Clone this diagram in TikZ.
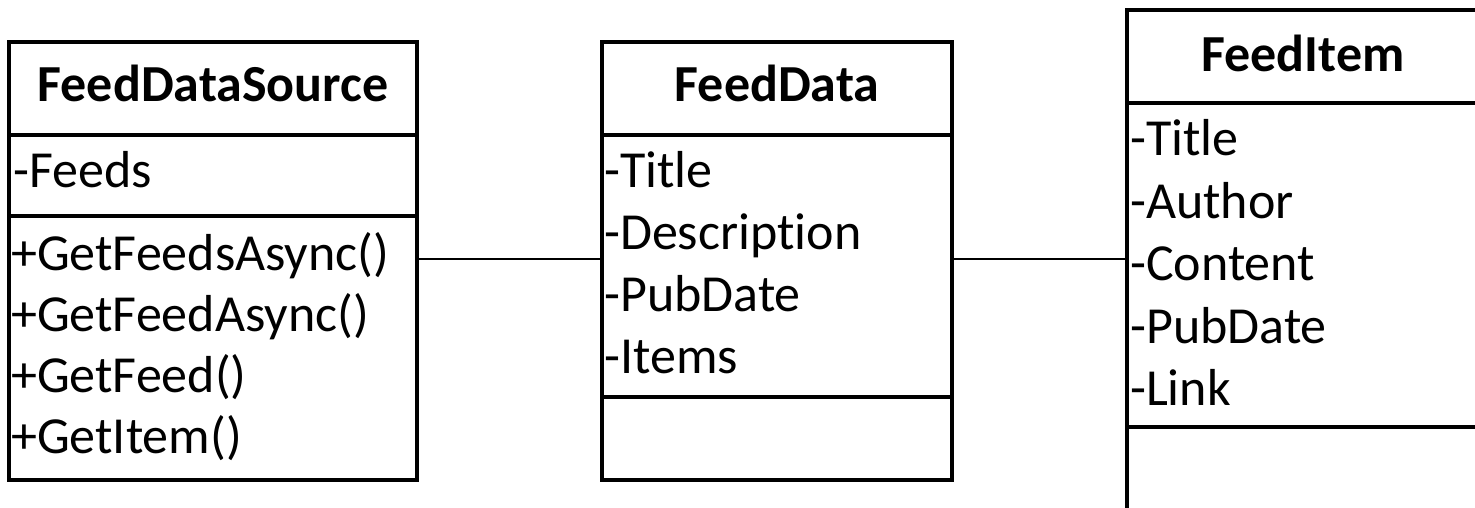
\documentclass[tikz,border=0pt]{standalone}
\usepackage{fontspec}
\setmainfont{Carlito}[RawFeature=-liga]
\begin{document}
\begin{tikzpicture}[x=1pt,y=-1pt,
  umlbox/.style={draw=black, line width=3.5pt, inner sep=0pt, outer sep=0pt},
  divider/.style={draw=black, line width=3.5pt},
  conn/.style={draw=black, line width=2.2pt},
  ctitle/.style={inner sep=0pt, anchor=base, font=\fontsize{52}{62}\selectfont\bfseries},
  attr/.style={inner sep=0pt, anchor=base west, font=\fontsize{52}{62}\selectfont}]
\clip (0,0) rectangle (1475,508);
\useasboundingbox (0,0) rectangle (1475,508);
% FeedDataSource
\node[umlbox, minimum width=408pt, minimum height=438pt] (fds) at (213,261) {};
\draw[divider] (fds.west |- 0,135) -- (fds.east |- 0,135);
\draw[divider] (fds.west |- 0,216) -- (fds.east |- 0,216);
\node[ctitle] (fdsT) at (213,102) {FeedDataSource};
\node[attr] (fdsA1) at (13,187) {-Feeds};
\node[attr] (fdsM1) at (11,270) {+GetFeedsAsync()};
\node[attr] (fdsM2) at (11,331) {+GetFeedAsync()};
\node[attr] (fdsM3) at (11,392) {+GetFeed()};
\node[attr] (fdsM4) at (11,453) {+GetItem()};
% FeedData
\node[umlbox, minimum width=350pt, minimum height=438pt] (fd) at (777,261) {};
\draw[divider] (fd.west |- 0,135) -- (fd.east |- 0,135);
\draw[divider] (fd.west |- 0,397) -- (fd.east |- 0,397);
\node[ctitle] (fdT) at (777,102) {FeedData};
\node[attr] (fdA1) at (604,187) {-Title};
\node[attr] (fdA2) at (604,249) {-Description};
\node[attr] (fdA3) at (604,311) {-PubDate};
\node[attr] (fdA4) at (604,373) {-Items};
% FeedItem
\node[umlbox, minimum width=352pt, minimum height=540pt] (fi) at (1303,280) {};
\draw[divider] (fi.west |- 0,103) -- (fi.east |- 0,103);
\draw[divider] (fi.west |- 0,427) -- (fi.east |- 0,427);
\node[ctitle] (fiT) at (1303,72) {FeedItem};
\node[attr] (fiA1) at (1130,155) {-Title};
\node[attr] (fiA2) at (1130,218) {-Author};
\node[attr] (fiA3) at (1130,280) {-Content};
\node[attr] (fiA4) at (1130,343) {-PubDate};
\node[attr] (fiA5) at (1130,405) {-Link};
% connectors
\draw[conn] (fds.east |- 0,259) -- (fd.west |- 0,259);
\draw[conn] (fd.east |- 0,259) -- (fi.west |- 0,259);
\end{tikzpicture}
\end{document}
